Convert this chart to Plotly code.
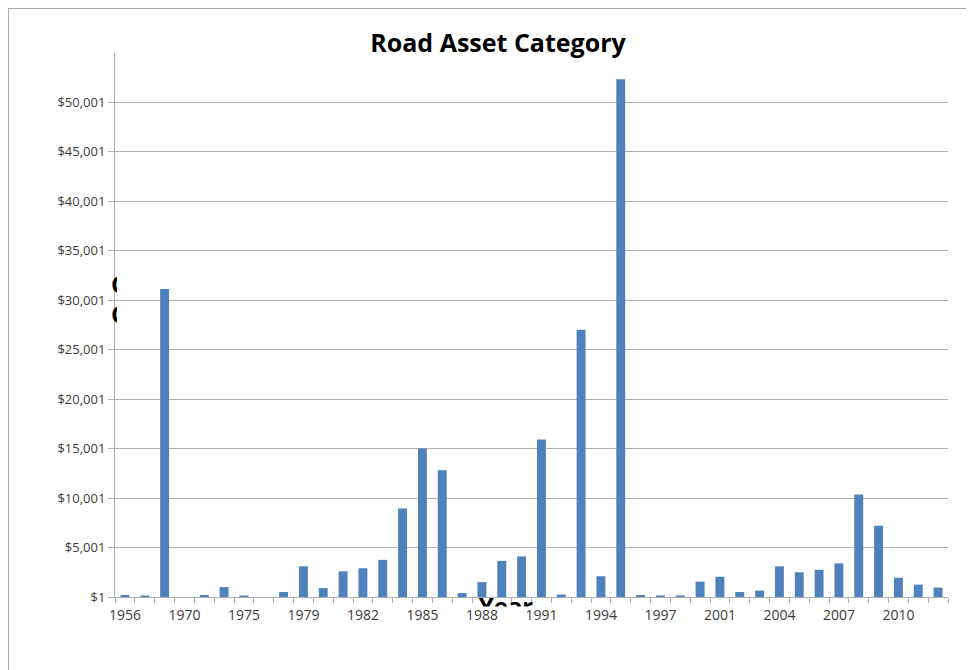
import plotly.graph_objects as go

# category labels (only every third one is shown on the axis)
years = [
    "1956", "1960", "1969", "1970", "1972", "1973", "1975", "1976", "1978",
    "1979", "1980", "1981", "1982", "1983", "1984", "1985", "1986", "1987",
    "1988", "1989", "1990", "1991", "1992", "1993", "1994", "1995", "1996",
    "1997", "1998", "2000", "2001", "2002", "2003", "2004", "2005", "2006",
    "2007", "2008", "2009", "2010", "2011", "2012",
]
costs = [
    200, 100, 31100, 0, 200, 1000, 100, 0, 500,
    3100, 900, 2600, 2900, 3750, 8950, 15000, 12800, 400,
    1500, 3650, 4100, 15900, 250, 27000, 2100, 52300, 200,
    150, 100, 1550, 2050, 500, 650, 3100, 2500, 2750,
    3400, 10350, 7200, 1950, 1250, 950,
]
y_ticks = [1, 5001, 10001, 15001, 20001, 25001, 30001, 35001, 40001, 45001, 50001]
y_max = 55001

title = "Road Asset Category"
x_title = "Year"
y_title_letters = ["C", "C"]  # what is left of the clipped y title

W, H = 974, 670
OFF = 8  # the html page body has an 8px margin
ML, MR, MT, MB = 20, 10, 10, 20
PW, PH = W - ML - MR, H - MT - MB


def fx(px):
    return (px - OFF - ML) / PW


def fy(py):
    return (H - MB - (py - OFF)) / PH


bold = dict(family="Open Sans, sans-serif", color="black", weight="bold")
grid = "#b0b0b0"

idx = list(range(len(years)))

fig = go.Figure()
fig.add_trace(
    go.Bar(
        x=idx,
        y=costs,
        marker=dict(color="#4f81bd", line=dict(width=0)),
        width=0.45,
        hoverinfo="x+y",
    )
)

# clipped leftovers of the axis titles
fig.add_trace(
    go.Scatter(
        x=[111, 111],
        y=[287, 317],
        text=y_title_letters,
        mode="text",
        textposition="middle right",
        textfont=dict(bold, size=24),
        cliponaxis=True,
        xaxis="x2",
        yaxis="y2",
        hoverinfo="skip",
    )
)
fig.add_trace(
    go.Scatter(
        x=[506],
        y=[609],
        text=[x_title],
        mode="text",
        textposition="middle center",
        textfont=dict(bold, size=24),
        cliponaxis=True,
        xaxis="x3",
        yaxis="y3",
        hoverinfo="skip",
    )
)

fig.update_layout(
    width=W,
    height=H,
    margin=dict(l=ML, r=MR, t=MT, b=MB),
    paper_bgcolor="white",
    plot_bgcolor="rgba(0,0,0,0)",
    showlegend=False,
    title=dict(
        text=f"<b>{title}</b>",
        font=dict(family="Open Sans, sans-serif", size=25, color="black"),
        xref="container",
        yref="container",
        x=(498 - OFF) / W,
        y=1 - (43 - OFF) / H,
        xanchor="center",
        yanchor="middle",
    ),
    xaxis=dict(
        domain=[fx(115), fx(948)],
        range=[-0.5, len(years) - 0.5],
        tickmode="array",
        tickvals=idx[::3],
        ticktext=years[::3],
        ticks="",
        ticklabelstandoff=5,
        tickfont=dict(family="Open Sans, sans-serif", size=14, color="#3c3c3c"),
        showgrid=False,
        zeroline=False,
        showline=True,
        linecolor=grid,
        linewidth=1,
        minor=dict(tick0=-0.5, dtick=1, ticks="outside", ticklen=5, tickcolor=grid, showgrid=False),
        anchor="y",
    ),
    yaxis=dict(
        domain=[fy(597), fy(52.5)],
        range=[1, y_max],
        tickmode="array",
        tickvals=y_ticks,
        ticktext=[f"${v:,}" for v in y_ticks],
        ticks="outside",
        ticklen=6,
        tickcolor=grid,
        tickfont=dict(family="Open Sans, sans-serif", size=13, color="#3c3c3c"),
        showgrid=True,
        gridcolor=grid,
        gridwidth=1,
        zeroline=False,
        showline=True,
        linecolor=grid,
        anchor="x",
    ),
    xaxis2=dict(domain=[fx(100), fx(117)], range=[100, 117], visible=False, anchor="y2"),
    yaxis2=dict(domain=[fy(335), fy(265)], range=[335, 265], visible=False, anchor="x2"),
    xaxis3=dict(domain=[fx(470), fx(545)], range=[470, 545], visible=False, anchor="y3"),
    yaxis3=dict(domain=[fy(606.5), fy(598)], range=[606.5, 598], visible=False, anchor="x3"),
    shapes=[
        dict(
            type="rect",
            xref="paper",
            yref="paper",
            x0=fx(8),
            x1=fx(1000),
            y0=fy(700),
            y1=fy(8),
            line=dict(color="#8c8c8c", width=1.5),
            fillcolor="rgba(0,0,0,0)",
            layer="below",
        )
    ],
)

fig.write_html("out.html")
